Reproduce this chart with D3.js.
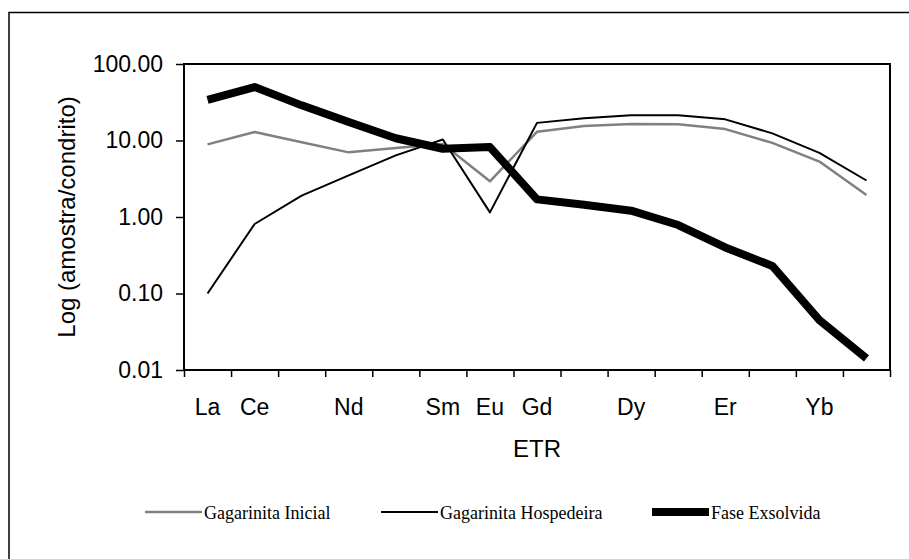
<!DOCTYPE html>
<html>
<head>
<meta charset="utf-8">
<script src="https://cdn.jsdelivr.net/npm/d3@7"></script>
<style>
  body { margin: 0; background: #fff; }
  svg { display: block; font-family: "Liberation Sans", Arial, sans-serif; }
</style>
</head>
<body>
<svg id="chart" width="909" height="559"></svg>
<script>
const categories = ["La", "Ce", "Pr", "Nd", "Pm", "Sm", "Eu", "Gd", "Tb", "Dy", "Ho", "Er", "Tm", "Yb", "Lu"];
const tickLabels = ["La", "Ce", "", "Nd", "", "Sm", "Eu", "Gd", "", "Dy", "", "Er", "", "Yb", ""];
const yTicks = [0.01, 0.1, 1, 10, 100];

const inicial = [8.9, 12.9, 9.5, 7.0, 8.0, 9.0, 2.93, 13.0, 15.5, 16.4, 16.3, 14.1, 9.3, 5.3, 1.94];
const hospedeira = [0.1, 0.81, 1.9, 3.5, 6.4, 10.3, 1.15, 17.0, 19.5, 21.4, 21.4, 18.9, 12.4, 6.9, 3.0];
const exsolvida = [34, 50, 28.8, 17.4, 10.7, 7.8, 8.2, 1.7, 1.45, 1.21, 0.785, 0.40, 0.229, 0.045, 0.0142];

const series = [
  { name: "Gagarinita Inicial", values: inicial, color: "#808080", width: 2.5 },
  { name: "Gagarinita Hospedeira", values: hospedeira, color: "#000", width: 2 },
  { name: "Fase Exsolvida", values: exsolvida, color: "#000", width: 8 },
];

const plot = { left: 184, right: 890, top: 64, bottom: 370 };

const svg = d3.select("#chart");

// outer chart frame (cut off at right/bottom in the original)
svg.append("rect")
  .attr("x", 9).attr("y", 12.5)
  .attr("width", 1000).attr("height", 1000)
  .attr("fill", "none").attr("stroke", "#000").attr("stroke-width", 1.5);

const x = d3.scaleBand().domain(categories).range([plot.left, plot.right]).padding(0);
const xEdge = d3.scaleLinear().domain([0, categories.length]).range([plot.left, plot.right]);
const y = d3.scaleLog().domain([0.01, 100]).range([plot.bottom, plot.top]);

// y axis
const yAxis = svg.append("g")
  .attr("transform", `translate(${plot.left},0)`)
  .call(d3.axisLeft(y).tickValues(yTicks).tickFormat(d3.format(".2f")).tickSize(8).tickPadding(13));
yAxis.select(".domain").remove();
yAxis.selectAll("line").attr("stroke", "#000").attr("stroke-width", 1.5);
yAxis.selectAll("text").attr("font-size", 23).attr("font-family", "Liberation Sans, Arial").attr("fill", "#000");

// x tick marks at category boundaries
const xTicks = svg.append("g")
  .attr("transform", `translate(0,${plot.bottom})`)
  .call(d3.axisBottom(xEdge).tickValues(d3.range(categories.length + 1)).tickFormat("").tickSize(7));
xTicks.select(".domain").remove();
xTicks.selectAll("line").attr("stroke", "#000").attr("stroke-width", 1.5);

// x labels
const xAxis = svg.append("g")
  .attr("transform", `translate(0,${plot.bottom})`)
  .call(d3.axisBottom(x).tickSize(0).tickFormat((d, i) => tickLabels[i]));
xAxis.select(".domain").remove();
xAxis.selectAll("text")
  .attr("y", 45).attr("dy", null)
  .attr("font-size", 23).attr("font-family", "Liberation Sans, Arial").attr("fill", "#000");

// plot area border
svg.append("rect")
  .attr("x", plot.left).attr("y", plot.top)
  .attr("width", plot.right - plot.left).attr("height", plot.bottom - plot.top)
  .attr("fill", "none").attr("stroke", "#000").attr("stroke-width", 2);

// lines
const line = d3.line()
  .x((d, i) => x(categories[i]) + x.bandwidth() / 2)
  .y(d => y(d));

svg.append("g").selectAll("path")
  .data(series)
  .join("path")
  .attr("d", d => line(d.values))
  .attr("fill", "none")
  .attr("stroke", d => d.color)
  .attr("stroke-width", d => d.width)
  .attr("stroke-linejoin", "round");

// axis titles
svg.append("text")
  .attr("x", (plot.left + plot.right) / 2).attr("y", 457)
  .attr("text-anchor", "middle").attr("font-size", 24)
  .text("ETR");

svg.append("text")
  .attr("transform", `translate(75,${(plot.top + plot.bottom) / 2}) rotate(-90)`)
  .attr("text-anchor", "middle").attr("font-size", 24)
  .text("Log (amostra/condrito)");

// legend
const legendX = [145, 381, 652];
const legend = svg.append("g")
  .selectAll("g")
  .data(series)
  .join("g")
  .attr("transform", (d, i) => `translate(${legendX[i]},512)`);

legend.append("line")
  .attr("x1", 0).attr("x2", 57)
  .attr("stroke", d => d.color)
  .attr("stroke-width", d => d.width);

legend.append("text")
  .attr("x", 59).attr("y", 7)
  .attr("font-family", "Liberation Serif, 'Times New Roman', serif")
  .attr("font-size", 18)
  .text(d => d.name);
</script>
</body>
</html>
